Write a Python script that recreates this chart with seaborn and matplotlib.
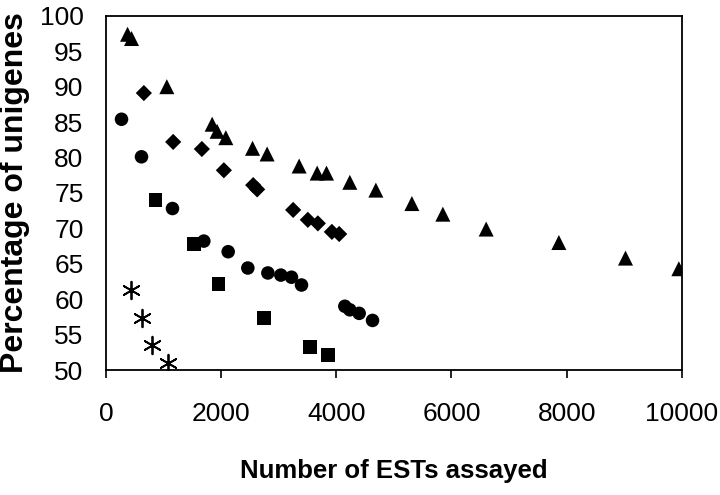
import numpy as np
import pandas as pd
import matplotlib
matplotlib.use("Agg")
import matplotlib.pyplot as plt
import seaborn as sns

# values
tri_x = [377, 446, 1059, 1846, 1932, 2083, 2547, 2800, 3356, 3669, 3831, 4236, 4688,
         5313, 5851, 6603, 7865, 9022, 9948]
tri_y = [97.4, 96.8, 90.0, 84.7, 83.7, 82.8, 81.3, 80.5, 78.8, 77.8, 77.8, 76.5, 75.4,
         73.5, 72.0, 69.9, 68.0, 65.8, 64.3]

dia_x = [660, 1169, 1667, 2049, 2558, 2627, 3252, 3507, 3681, 3924, 4051]
dia_y = [89.1, 82.2, 81.2, 78.2, 76.1, 75.5, 72.6, 71.2, 70.7, 69.5, 69.2]

cir_x = [272, 619, 1157, 1701, 2124, 2465, 2813, 3038, 3223, 3397, 4149, 4236, 4398, 4630]
cir_y = [85.4, 80.1, 72.8, 68.2, 66.7, 64.4, 63.7, 63.4, 63.1, 62.0, 59.0, 58.5, 58.0, 57.0]

sq_x = [862, 1528, 1956, 2749, 3542, 3860]
sq_y = [74.0, 67.8, 62.2, 57.4, 53.3, 52.1]

ast_x = [434, 631, 804, 1082]
ast_y = [61.3, 57.3, 53.5, 51.0]

x_ticks = [0, 2000, 4000, 6000, 8000, 10000]
y_ticks = [50, 55, 60, 65, 70, 75, 80, 85, 90, 95, 100]

sns.set_style("ticks")
plt.rcParams['font.family'] = ['Liberation Sans', 'DejaVu Sans']
plt.rcParams['text.color'] = 'black'
plt.rcParams['axes.labelcolor'] = 'black'
plt.rcParams['xtick.color'] = 'black'
plt.rcParams['ytick.color'] = 'black'

fig = plt.figure(figsize=(7.2, 4.95), dpi=100)
ax = fig.add_axes([0.147, 0.2525, 0.8, 0.7155])

series = [
    (tri_x, tri_y, '^', 117),
    (dia_x, dia_y, 'D', 68),
    (cir_x, cir_y, 'o', 95),
    (sq_x, sq_y, 's', 100),
]
for xs, ys, m, s in series:
    df = pd.DataFrame({'x': xs, 'y': ys})
    sns.scatterplot(data=df, x='x', y='y', marker=m, s=s, color='black',
                    edgecolor='none', ax=ax, zorder=3)

df_ast = pd.DataFrame({'x': ast_x, 'y': ast_y})
sns.scatterplot(data=df_ast, x='x', y='y', marker=(6, 2, 0), s=160, color='black',
                linewidth=1.3, ax=ax, zorder=3)

ax.set_xlim(0, 10000)
ax.set_ylim(50, 100)
ax.set_xticks(x_ticks)
ax.set_yticks(y_ticks)
ax.tick_params(axis='x', direction='out', length=6, width=1.2, pad=17, labelsize=19)
ax.tick_params(axis='y', length=0, pad=16, labelsize=19)
for sp in ax.spines.values():
    sp.set_color('black')
    sp.set_linewidth(1.3)

ax.set_xlabel('Number of ESTs assayed', fontsize=18.5, fontweight='bold')
ax.set_ylabel('Percentage of unigenes', fontsize=23, fontweight='bold')
ax.xaxis.set_label_coords(0.5, -0.25)
ax.yaxis.set_label_coords(-0.132, 0.5)

fig.savefig('out.png', dpi=100)
